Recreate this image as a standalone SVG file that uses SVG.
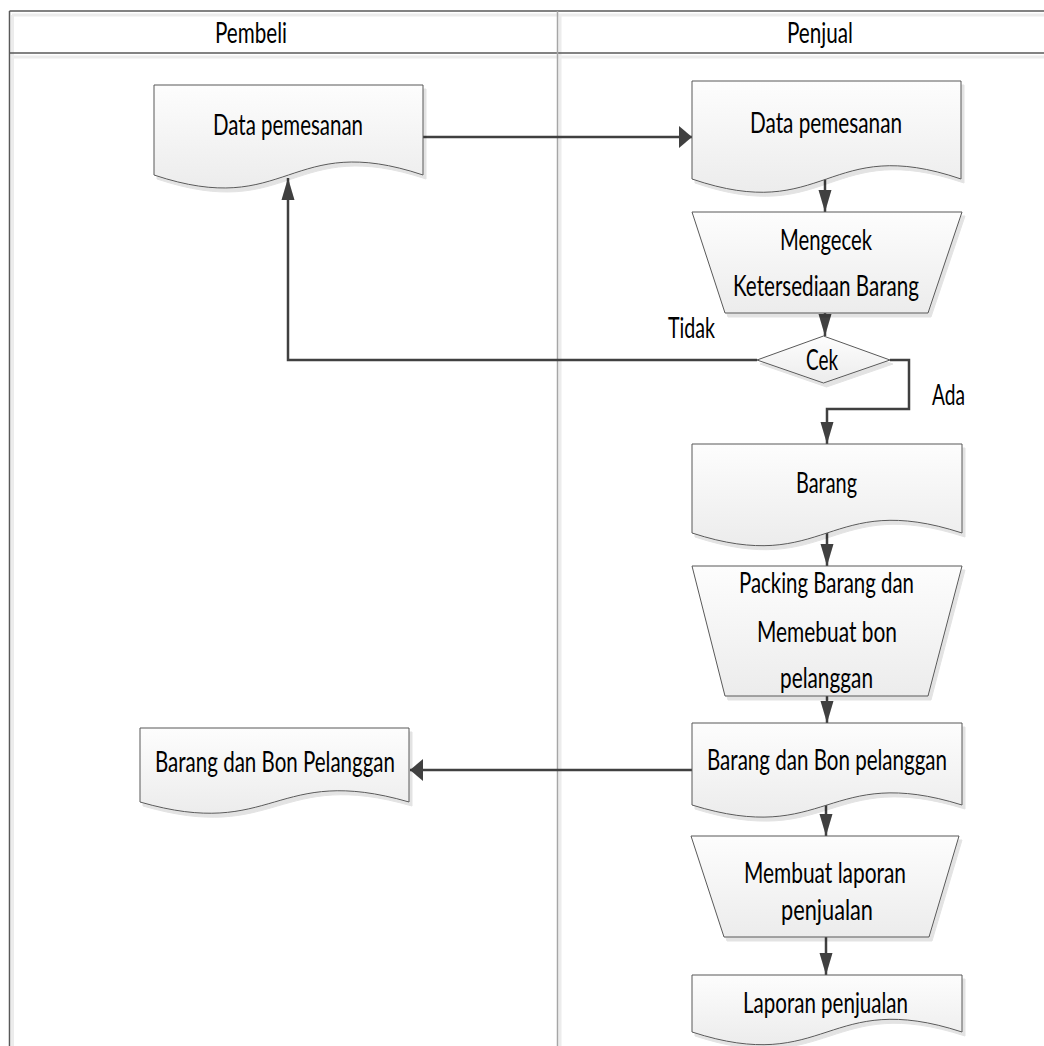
<svg xmlns="http://www.w3.org/2000/svg" width="1044" height="1046" viewBox="0 0 1044 1046">
<style>
.node{fill:url(#gf);stroke:#595959;stroke-width:1;filter:url(#sh)}
.t{font-family:Lato,"Liberation Sans",sans-serif;font-size:28px;fill:#000;text-anchor:middle}
.c{fill:none;stroke:#404040;stroke-width:2.5}
.cv{marker-end:url(#av)}
.ch{marker-end:url(#ah)}
.frame{stroke:#595959;stroke-width:1.5;fill:none}
.soft{stroke:#ececec;stroke-width:3;fill:none}
</style>
<defs>
<linearGradient id="gf" x1="0" y1="0" x2="0" y2="1">
<stop offset="0" stop-color="#fdfdfd"/>
<stop offset="1" stop-color="#ececec"/>
</linearGradient>
<filter id="sh" x="-10%" y="-10%" width="130%" height="130%">
<feOffset in="SourceAlpha" dx="3" dy="4" result="o"/>
<feFlood flood-color="#000" flood-opacity="0.11"/>
<feComposite in2="o" operator="in" result="s"/>
<feMerge><feMergeNode in="s"/><feMergeNode in="SourceGraphic"/></feMerge>
</filter>
<marker id="av" markerUnits="userSpaceOnUse" markerWidth="24" markerHeight="16" refX="22" refY="7" orient="auto">
<path d="M0,0.5 L22,7 L0,13.5 Z" fill="#404040"/>
</marker>
<marker id="ah" markerUnits="userSpaceOnUse" markerWidth="15" markerHeight="24" refX="13" refY="11" orient="auto">
<path d="M0,0 L13,11 L0,22 Z" fill="#404040"/>
</marker>
</defs>
<rect width="1044" height="1046" fill="#fff"/>
<g id="lanes">
<line class="soft" x1="12" y1="15" x2="1044" y2="15"/>
<line class="soft" x1="12" y1="57" x2="1044" y2="57"/>
<line class="soft" x1="12.5" y1="15" x2="12.5" y2="1046"/>
<line class="soft" x1="560" y1="15" x2="560" y2="1046"/>
<line class="frame" x1="9.5" y1="11" x2="1044" y2="11"/>
<line class="frame" x1="9.5" y1="53" x2="1044" y2="53"/>
<line class="frame" x1="9.5" y1="11" x2="9.5" y2="1046"/>
<line x1="557.5" y1="11" x2="557.5" y2="1046" stroke="#a6a6a6" stroke-width="1.5"/>
<text class="t" x="251" y="43" textLength="72" lengthAdjust="spacingAndGlyphs">Pembeli</text>
<text class="t" x="820" y="43" textLength="66" lengthAdjust="spacingAndGlyphs">Penjual</text>
</g>
<g id="connectors">
<path class="c ch" d="M423,137 H692"/>
<path class="c cv" d="M825,179 V212"/>
<path class="c cv" d="M825,313 V336"/>
<path class="c cv" d="M757,360 H288 V178"/>
<path class="c cv" d="M890,360 H909 V409 H827 V444"/>
<path class="c cv" d="M827,533 V566"/>
<path class="c cv" d="M827,696 V723"/>
<path class="c ch" d="M692,770 H410"/>
<path class="c cv" d="M826,805 V836"/>
<path class="c cv" d="M826,937 V975"/>
<text class="t" x="691.5" y="338" textLength="47" lengthAdjust="spacingAndGlyphs">Tidak</text>
<text class="t" x="948.5" y="405" textLength="33" lengthAdjust="spacingAndGlyphs">Ada</text>
</g>
<g id="n1">
<path class="node" d="M154,85 H423 V175 C288.5,130 288.5,220 154,175 Z"/>
<text class="t" x="288" y="135" textLength="150" lengthAdjust="spacingAndGlyphs">Data pemesanan</text>
</g>
<g id="n2">
<path class="node" d="M692,81 H961 V179 C826.5,133 826.5,225 692,179 Z"/>
<text class="t" x="826" y="133" textLength="152" lengthAdjust="spacingAndGlyphs">Data pemesanan</text>
</g>
<g id="n3">
<path class="node" d="M692,212 H962 L928,313 H725 Z"/>
<text class="t" x="826" y="250" textLength="92" lengthAdjust="spacingAndGlyphs">Mengecek</text>
<text class="t" x="826" y="296" textLength="186" lengthAdjust="spacingAndGlyphs">Ketersediaan Barang</text>
</g>
<g id="n4">
<path class="node" d="M757,360 L823.5,336 L890,360 L823.5,383 Z"/>
<text class="t" x="822" y="370" textLength="32" lengthAdjust="spacingAndGlyphs">Cek</text>
</g>
<g id="n5">
<path class="node" d="M692,444 H962 V533 C827,489 827,577 692,533 Z"/>
<text class="t" x="826.5" y="493" textLength="61" lengthAdjust="spacingAndGlyphs">Barang</text>
</g>
<g id="n6">
<path class="node" d="M692,566 H962 L928,696 H725 Z"/>
<text class="t" x="826.5" y="593" textLength="175" lengthAdjust="spacingAndGlyphs">Packing Barang dan</text>
<text class="t" x="827" y="642" textLength="140" lengthAdjust="spacingAndGlyphs">Memebuat bon</text>
<text class="t" x="826.5" y="688" textLength="93" lengthAdjust="spacingAndGlyphs">pelanggan</text>
</g>
<g id="n7">
<path class="node" d="M692,723 H962 V805 C827,763 827,847 692,805 Z"/>
<text class="t" x="827" y="770" textLength="240" lengthAdjust="spacingAndGlyphs">Barang dan Bon pelanggan</text>
</g>
<g id="n8">
<path class="node" d="M140,728 H409 V802 C274.5,763 274.5,841 140,802 Z"/>
<text class="t" x="275" y="772" textLength="240" lengthAdjust="spacingAndGlyphs">Barang dan Bon Pelanggan</text>
</g>
<g id="n9">
<path class="node" d="M691,836 H959 L929,937 H724 Z"/>
<text class="t" x="825" y="883" textLength="162" lengthAdjust="spacingAndGlyphs">Membuat laporan</text>
<text class="t" x="827" y="920" textLength="92" lengthAdjust="spacingAndGlyphs">penjualan</text>
</g>
<g id="n10">
<path class="node" d="M692,975 H962 V1032 C827,988 827,1076 692,1032 Z"/>
<text class="t" x="825.5" y="1013" textLength="165" lengthAdjust="spacingAndGlyphs">Laporan penjualan</text>
</g>
</svg>
